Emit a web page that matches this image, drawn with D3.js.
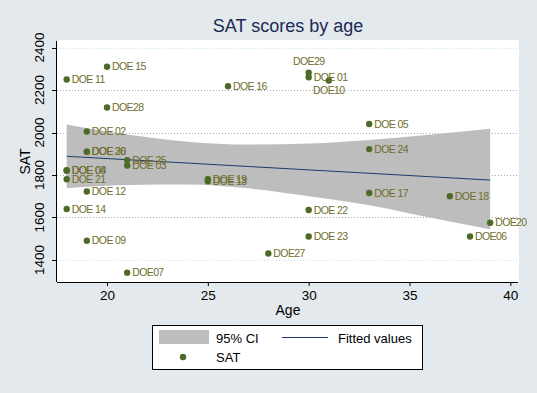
<!DOCTYPE html>
<html>
<head>
<meta charset="utf-8">
<script src="https://cdn.jsdelivr.net/npm/d3@7"></script>
<style>
  body { margin: 0; background: #e3e9ec; }
  svg { display: block; font-family: "Liberation Sans", Arial, sans-serif; }
</style>
</head>
<body>
<div id="chart"></div>
<script>
// scatter points
const ids = ["DOE 01", "DOE 02", "DOE 03", "DOE 04", "DOE 05", "DOE06", "DOE07", "DOE 08", "DOE 09", "DOE10",
             "DOE 11", "DOE 12", "DOE 13", "DOE 14", "DOE 15", "DOE 16", "DOE 17", "DOE 18", "DOE 19", "DOE20",
             "DOE 21", "DOE 22", "DOE 23", "DOE 24", "DOE 25", "DOE 26", "DOE27", "DOE28", "DOE29", "DOE 30"];
const ages = [30, 19, 21, 18, 33, 38, 21, 18, 19, 31,
              18, 19, 25, 18, 20, 26, 33, 37, 25, 39,
              18, 30, 30, 33, 21, 19, 28, 20, 30, 19];
const sat = [2260, 2005, 1845, 1822, 2040, 1510, 1340, 1820, 1490, 2245,
             2250, 1722, 1770, 1640, 2310, 2218, 1715, 1700, 1780, 1575,
             1780, 1635, 1510, 1922, 1870, 1910, 1430, 2118, 2282, 1910];

// linear fit and 95% CI band
const fitAges = [18, 21, 24, 27, 30, 33, 36, 39];
const fitted  = [1888, 1872, 1856, 1840, 1824, 1808, 1792, 1776];
const ciUpper = [2038, 1991, 1957, 1943, 1948, 1965, 1990, 2018];
const ciLower = [1738, 1753, 1755, 1737, 1700, 1658, 1600, 1545];

const xTicks = [20, 25, 30, 35, 40];
const yTicks = [1400, 1600, 1800, 2000, 2200, 2400];

// label clock position (3 = right of marker)
const labelClock = { "DOE29": 12, "DOE10": 6 };

const width = 537, height = 393;
const pLeft = 57, pRight = 518, pTop = 41, pBottom = 282;

const svg = d3.select("#chart").append("svg")
    .attr("width", width)
    .attr("height", height);

svg.append("rect")
    .attr("width", width).attr("height", height)
    .attr("fill", "#e3e9ec");

svg.append("rect")
    .attr("x", pLeft).attr("y", pTop - 1)
    .attr("width", pRight - pLeft + 1).attr("height", pBottom - pTop + 1)
    .attr("fill", "#fff");

const x = d3.scaleLinear().domain([17.52, 40.38]).range([pLeft, pRight]);
const y = d3.scaleLinear().domain([1296, 2431]).range([pBottom, pTop]);

// grid
svg.append("g").selectAll("line")
    .data(yTicks)
    .enter().append("line")
    .attr("x1", pLeft).attr("x2", pRight)
    .attr("y1", d => Math.round(y(d)) + 0.5)
    .attr("y2", d => Math.round(y(d)) + 0.5)
    .attr("stroke", d => (d === 1400 || d === 2400) ? "#b8e4ea" : "#a9a9b4")
    .attr("stroke-width", 1)
    .attr("stroke-dasharray", "1,2");

// CI band
const fitRows = fitAges.map((a, i) => ({ age: a, fit: fitted[i], lo: ciLower[i], hi: ciUpper[i] }));

svg.append("path")
    .datum(fitRows)
    .attr("d", d3.area()
        .x(d => x(d.age))
        .y0(d => y(d.lo))
        .y1(d => y(d.hi))
        .curve(d3.curveMonotoneX))
    .attr("fill", "#bdbdbd");

svg.append("path")
    .datum(fitRows)
    .attr("d", d3.line()
        .x(d => x(d.age))
        .y(d => y(d.fit)))
    .attr("fill", "none")
    .attr("stroke", "#1a3c6c")
    .attr("stroke-width", 1);

// axes
const xAxis = svg.append("g")
    .attr("transform", `translate(0,${pBottom})`)
    .call(d3.axisBottom(x).tickValues(xTicks).tickSize(4).tickPadding(4));
xAxis.select(".domain").attr("d", `M${pLeft},0.5H${pRight}`);
xAxis.selectAll("text").attr("font-size", "13.5px").attr("fill", "#000").attr("font-family", "Liberation Sans, Arial");

const yAxis = svg.append("g")
    .attr("transform", `translate(${pLeft},0)`)
    .call(d3.axisLeft(y).tickValues(yTicks).tickFormat(d3.format("d")).tickSize(5).tickPadding(0));
yAxis.select(".domain").attr("d", `M-0.5,${pTop}V${pBottom}`);
yAxis.selectAll(".tick").attr("transform", null);
yAxis.selectAll(".tick line")
    .attr("y1", d => Math.round(y(d)) + 0.5)
    .attr("y2", d => Math.round(y(d)) + 0.5);
yAxis.selectAll(".tick text")
    .attr("font-size", "13.5px")
    .attr("fill", "#000")
    .attr("font-family", "Liberation Sans, Arial")
    .attr("text-anchor", "middle")
    .attr("x", 0).attr("y", 0).attr("dy", 0)
    .attr("transform", d => `translate(-13.5,${y(d)}) rotate(-90)`);

// points + labels
const pts = ids.map((id, i) => ({ id, age: ages[i], sat: sat[i] }));

svg.append("g").selectAll("circle")
    .data(pts)
    .enter().append("circle")
    .attr("cx", d => x(d.age))
    .attr("cy", d => y(d.sat))
    .attr("r", 3.2)
    .attr("fill", "#4d6b28");

svg.append("g").selectAll("text")
    .data(pts)
    .enter().append("text")
    .attr("x", d => {
        const c = labelClock[d.id] || 3;
        return c === 3 ? x(d.age) + 5 : x(d.age);
    })
    .attr("y", d => {
        const c = labelClock[d.id] || 3;
        return c === 12 ? y(d.sat) - 11 : c === 6 ? y(d.sat) + 10 : y(d.sat);
    })
    .attr("dy", "0.35em")
    .attr("text-anchor", d => (labelClock[d.id] || 3) === 3 ? "start" : "middle")
    .attr("font-size", "10.5px")
    .attr("letter-spacing", "-0.6px")
    .attr("fill", "#6f6d2c")
    .text(d => d.id);

// titles
svg.append("text")
    .attr("x", 288).attr("y", 32)
    .attr("text-anchor", "middle")
    .attr("font-size", "18px")
    .attr("fill", "#1c2a55")
    .text("SAT scores by age");

svg.append("text")
    .attr("x", 288).attr("y", 315)
    .attr("text-anchor", "middle")
    .attr("font-size", "14px")
    .text("Age");

svg.append("text")
    .attr("transform", `translate(30,${(pTop + pBottom) / 2}) rotate(-90)`)
    .attr("text-anchor", "middle")
    .attr("font-size", "14px")
    .text("SAT");

// legend
const lg = svg.append("g");
lg.append("rect")
    .attr("x", 152.5).attr("y", 325.5)
    .attr("width", 270).attr("height", 44)
    .attr("fill", "#fff").attr("stroke", "#000").attr("stroke-width", 1);
lg.append("rect")
    .attr("x", 159).attr("y", 330)
    .attr("width", 50).attr("height", 14)
    .attr("fill", "#bdbdbd");
lg.append("text").attr("x", 216).attr("y", 343).attr("font-size", "13px").text("95% CI");
lg.append("line")
    .attr("x1", 282).attr("x2", 328)
    .attr("y1", 337.5).attr("y2", 337.5)
    .attr("stroke", "#1a3c6c").attr("stroke-width", 1);
lg.append("text").attr("x", 338).attr("y", 343).attr("font-size", "13px").text("Fitted values");
lg.append("circle").attr("cx", 183).attr("cy", 357).attr("r", 3.2).attr("fill", "#4d6b28");
lg.append("text").attr("x", 216).attr("y", 362).attr("font-size", "13px").text("SAT");
</script>
</body>
</html>
